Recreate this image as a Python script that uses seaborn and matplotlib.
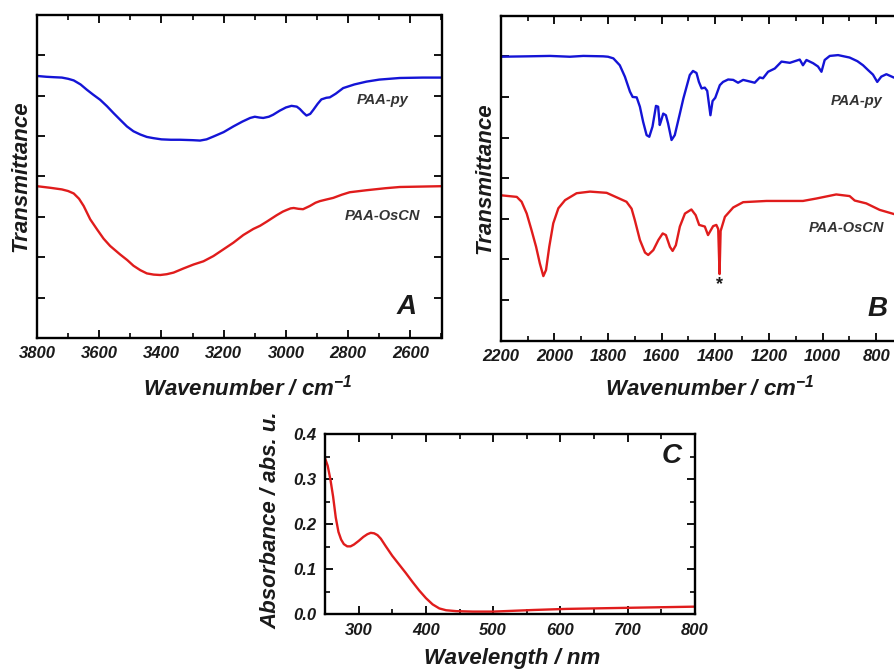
import matplotlib
matplotlib.use("Agg")
import matplotlib.pyplot as plt
import seaborn as sns
import pandas as pd
from matplotlib.ticker import MultipleLocator, FixedLocator, NullFormatter

# ---------------- data ----------------
# Panel A (high wavenumber FTIR)
a_py_wn = [3800, 3770, 3747, 3720, 3700, 3682, 3660, 3640, 3620, 3597, 3575, 3554, 3532, 3511,
           3490, 3468, 3447, 3426, 3400, 3370, 3340, 3300, 3276, 3255, 3233, 3200, 3169, 3140,
           3115, 3100, 3085, 3073, 3055, 3041, 3020, 3000, 2982, 2965, 2955, 2944, 2934, 2922,
           2912, 2898, 2886, 2870, 2859, 2840, 2816, 2780, 2741, 2700, 2634, 2560, 2500]
a_py_t = [6.49, 6.47, 6.46, 6.45, 6.42, 6.38, 6.28, 6.15, 6.03, 5.90, 5.74, 5.57, 5.40, 5.24,
          5.12, 5.04, 4.98, 4.95, 4.92, 4.91, 4.91, 4.90, 4.89, 4.92, 4.99, 5.10, 5.24, 5.36,
          5.45, 5.48, 5.46, 5.45, 5.48, 5.53, 5.63, 5.71, 5.75, 5.73, 5.67, 5.58, 5.51, 5.55,
          5.65, 5.80, 5.91, 5.95, 5.96, 6.05, 6.19, 6.28, 6.35, 6.40, 6.44, 6.45, 6.45]

a_os_wn = [3800, 3757, 3720, 3700, 3682, 3665, 3650, 3629, 3607, 3586, 3565, 3533, 3510, 3490,
           3468, 3447, 3425, 3404, 3383, 3361, 3330, 3297, 3265, 3233, 3200, 3169, 3137, 3105,
           3083, 3062, 3030, 3010, 2998, 2985, 2975, 2960, 2945, 2923, 2905, 2891, 2870, 2848,
           2820, 2795, 2741, 2680, 2634, 2500]
a_os_t = [3.76, 3.72, 3.68, 3.64, 3.58, 3.45, 3.27, 2.94, 2.69, 2.46, 2.28, 2.07, 1.93, 1.79,
          1.68, 1.60, 1.57, 1.56, 1.58, 1.62, 1.72, 1.82, 1.90, 2.03, 2.20, 2.36, 2.55, 2.70,
          2.78, 2.88, 3.04, 3.13, 3.17, 3.21, 3.22, 3.20, 3.19, 3.27, 3.35, 3.39, 3.43, 3.47,
          3.55, 3.61, 3.66, 3.71, 3.74, 3.76]

# Panel B (fingerprint FTIR)
b_py_wn = [2200, 2100, 2016, 1942, 1892, 1818, 1800, 1780, 1756, 1737, 1718, 1708, 1693, 1681,
           1669, 1656, 1646, 1634, 1621, 1613, 1607, 1603, 1594, 1584, 1576, 1563, 1551, 1532,
           1519, 1507, 1495, 1483, 1470, 1461, 1451, 1439, 1430, 1424, 1418, 1410, 1400, 1383,
           1371, 1352, 1333, 1315, 1296, 1271, 1253, 1234, 1222, 1203, 1178, 1153, 1122, 1085,
           1073, 1060, 1035, 1017, 1004, 992, 973, 942, 899, 870, 849, 830, 812, 796, 781, 762,
           735, 700]
b_py_t = [6.99, 7.00, 7.01, 6.99, 7.01, 7.00, 6.99, 6.95, 6.78, 6.50, 6.13, 6.00, 5.99, 5.76,
          5.39, 5.06, 5.02, 5.27, 5.78, 5.76, 5.31, 5.39, 5.59, 5.55, 5.35, 4.94, 5.06, 5.59,
          5.96, 6.25, 6.54, 6.64, 6.59, 6.37, 6.21, 6.23, 6.15, 5.85, 5.55, 5.90, 5.98, 6.29,
          6.37, 6.43, 6.42, 6.35, 6.42, 6.38, 6.35, 6.48, 6.46, 6.62, 6.70, 6.87, 6.84, 6.92,
          6.78, 6.91, 6.83, 6.75, 6.62, 6.91, 7.01, 7.03, 6.97, 6.88, 6.78, 6.66, 6.55, 6.37,
          6.50, 6.56, 6.48, 6.40]

b_os_wn = [2200, 2140, 2122, 2103, 2085, 2068, 2054, 2041, 2031, 2019, 2004, 1985, 1960, 1917,
           1867, 1805, 1768, 1731, 1712, 1700, 1681, 1662, 1650, 1631, 1612, 1596, 1584, 1569,
           1559, 1547, 1532, 1513, 1489, 1473, 1460, 1439, 1427, 1408, 1396, 1389, 1384, 1380,
           1364, 1333, 1296, 1209, 1147, 1073, 1023, 949, 899, 880, 837, 787, 735, 700]
b_os_t = [3.58, 3.54, 3.42, 3.13, 2.72, 2.31, 1.90, 1.59, 1.74, 2.31, 2.89, 3.26, 3.46, 3.63,
          3.67, 3.64, 3.53, 3.42, 3.25, 2.97, 2.48, 2.17, 2.11, 2.23, 2.48, 2.64, 2.60, 2.31,
          2.21, 2.35, 2.81, 3.13, 3.23, 3.09, 2.85, 2.81, 2.60, 2.82, 2.85, 2.75, 1.64, 2.70,
          3.05, 3.28, 3.41, 3.44, 3.44, 3.44, 3.50, 3.60, 3.56, 3.45, 3.38, 3.22, 3.12, 3.05]

# Panel C (UV-vis)
c_wl = [250, 254, 258, 262, 266, 270, 274, 278, 283, 288, 293, 300, 307, 313, 318, 323, 328,
        333, 340, 350, 360, 370, 380, 390, 400, 410, 420, 430, 445, 470, 500, 560, 609, 684, 800]
c_abs = [0.347, 0.330, 0.300, 0.262, 0.215, 0.183, 0.166, 0.156, 0.151, 0.151, 0.155, 0.163,
         0.172, 0.178, 0.181, 0.180, 0.176, 0.168, 0.152, 0.130, 0.111, 0.092, 0.072, 0.053,
         0.036, 0.022, 0.013, 0.009, 0.007, 0.006, 0.006, 0.0096, 0.012, 0.014, 0.017]

a_ticks = [3800, 3600, 3400, 3200, 3000, 2800, 2600]
b_ticks = [2200, 2000, 1800, 1600, 1400, 1200, 1000, 800]
c_xticks = [300, 400, 500, 600, 700, 800]
c_yticks = [0.0, 0.1, 0.2, 0.3, 0.4]

BLUE = "#1414d6"
RED = "#e01c1c"
TXT = "#1a1a1a"
LBL = "#333333"

# ---------------- style ----------------
sns.set_theme(style="ticks")
plt.rcParams["font.family"] = ["Liberation Sans", "DejaVu Sans"]
plt.rcParams["font.weight"] = "bold"
plt.rcParams["font.style"] = "italic"
plt.rcParams["mathtext.fontset"] = "custom"
plt.rcParams["mathtext.rm"] = "Liberation Sans:bold:italic"
plt.rcParams["mathtext.it"] = "Liberation Sans:bold:italic"
plt.rcParams["mathtext.bf"] = "Liberation Sans:bold:italic"
plt.rcParams["mathtext.default"] = "rm"
plt.rcParams["axes.linewidth"] = 1.7
plt.rcParams["axes.edgecolor"] = "black"
plt.rcParams["text.color"] = TXT

W, H = 894, 671
fig = plt.figure(figsize=(W / 100, H / 100), dpi=100)
fig.patch.set_facecolor("white")


def pos(l, t, r, b):
    return [l / W, 1 - b / H, (r - l) / W, (b - t) / H]


def style_axes(ax, tick_fs=12):
    ax.tick_params(which="both", direction="in", top=True, right=True, color="black")
    ax.tick_params(which="major", length=6, width=1.3, pad=6, labelsize=tick_fs,
                   labelcolor=TXT)
    ax.tick_params(which="minor", length=3.5, width=1.2)
    for lab in ax.get_xticklabels() + ax.get_yticklabels():
        lab.set_fontweight("bold")
        lab.set_fontstyle("italic")


label_kw = dict(fontsize=16, fontweight="bold", fontstyle="italic", color=TXT)
curve_kw = dict(ha="center", va="center", fontsize=10.5, color=LBL,
                fontweight="bold", fontstyle="italic")
panel_kw = dict(ha="center", va="center", fontsize=20, color=TXT,
                fontweight="bold", fontstyle="italic")

# ---------------- Panel A ----------------
axA = fig.add_axes(pos(37, 15, 441.5, 338))
dfA = pd.DataFrame({"wn": a_py_wn + a_os_wn, "t": a_py_t + a_os_t,
                    "s": ["PAA-py"] * len(a_py_wn) + ["PAA-OsCN"] * len(a_os_wn)})
sns.lineplot(data=dfA, x="wn", y="t", hue="s", palette={"PAA-py": BLUE, "PAA-OsCN": RED},
             estimator=None, sort=False, lw=1.7, legend=False, ax=axA)
axA.set_xlim(3800, 2500)
axA.set_ylim(0, 8)
axA.xaxis.set_major_locator(FixedLocator(a_ticks))
axA.xaxis.set_minor_locator(MultipleLocator(100))
axA.yaxis.set_major_locator(MultipleLocator(1))
axA.yaxis.set_major_formatter(NullFormatter())
style_axes(axA)
axA.set_xlabel("Wavenumber / cm$^{-1}$", **label_kw)
axA.set_ylabel("Transmittance", **label_kw)
axA.xaxis.set_label_coords(0.52, -0.152)
axA.xaxis.label.set_va("center")
axA.yaxis.set_label_coords(-0.040, 0.5)
axA.yaxis.label.set_va("center")
axA.text(2689, 5.9, "PAA-py", **curve_kw)
axA.text(2689, 3.01, "PAA-OsCN", **curve_kw)
axA.text(2612, 0.77, "A", **panel_kw)

# ---------------- Panel B ----------------
axB = fig.add_axes(pos(500.7, 15.7, 903, 340.7))
dfB = pd.DataFrame({"wn": b_py_wn + b_os_wn, "t": b_py_t + b_os_t,
                    "s": ["PAA-py"] * len(b_py_wn) + ["PAA-OsCN"] * len(b_os_wn)})
sns.lineplot(data=dfB, x="wn", y="t", hue="s", palette={"PAA-py": BLUE, "PAA-OsCN": RED},
             estimator=None, sort=False, lw=1.7, legend=False, ax=axB)
axB.set_xlim(2200, 700)
axB.set_ylim(0, 8)
axB.xaxis.set_major_locator(FixedLocator(b_ticks))
axB.xaxis.set_minor_locator(MultipleLocator(100))
axB.yaxis.set_major_locator(MultipleLocator(1))
axB.yaxis.set_major_formatter(NullFormatter())
style_axes(axB)
axB.set_xlabel("Wavenumber / cm$^{-1}$", **label_kw)
axB.set_ylabel("Transmittance", **label_kw)
axB.xaxis.set_label_coords(0.52, -0.145)
axB.xaxis.label.set_va("center")
axB.yaxis.set_label_coords(-0.039, 0.5)
axB.yaxis.label.set_va("center")
axB.text(874, 5.89, "PAA-py", **curve_kw)
axB.text(911, 2.77, "PAA-OsCN", **curve_kw)
axB.text(1386, 1.38, "*", ha="center", va="center", fontsize=13, color=TXT,
         fontweight="bold", fontstyle="normal")
axB.text(795, 0.78, "B", **panel_kw)

# ---------------- Panel C ----------------
axC = fig.add_axes(pos(325, 434.3, 695, 614.3))
dfC = pd.DataFrame({"wl": c_wl, "a": c_abs})
sns.lineplot(data=dfC, x="wl", y="a", color=RED, estimator=None, sort=False, lw=1.7, ax=axC)
axC.set_xlim(250, 800)
axC.set_ylim(0, 0.4)
axC.xaxis.set_major_locator(FixedLocator(c_xticks))
axC.xaxis.set_minor_locator(MultipleLocator(50))
axC.yaxis.set_major_locator(FixedLocator(c_yticks))
axC.yaxis.set_minor_locator(MultipleLocator(0.05))
axC.set_xticklabels([str(v) for v in c_xticks])
axC.set_yticklabels([f"{v:.1f}" for v in c_yticks])
style_axes(axC)
axC.set_xlabel("Wavelength / nm", **label_kw)
axC.set_ylabel("Absorbance / abs. u.", **label_kw)
axC.xaxis.set_label_coords(0.505, -0.245)
axC.xaxis.label.set_va("center")
axC.yaxis.set_label_coords(-0.146, 0.52)
axC.yaxis.label.set_va("center")
axC.text(766, 0.352, "C", **panel_kw)

fig.savefig("out.png", dpi=100, facecolor="white")
